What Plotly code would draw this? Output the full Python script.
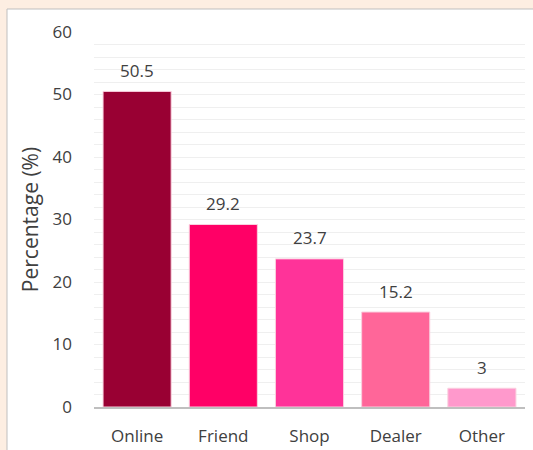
import plotly.graph_objects as go

# Source of purchase (percentage of respondents)
categories = ["Online", "Friend", "Shop", "Dealer", "Other"]
percentages = [50.5, 29.2, 23.7, 15.2, 3]
bar_colors = ["#990033", "#FF0066", "#FF3399", "#FF6699", "#FF99CC"]

y_ticks = [0, 10, 20, 30, 40, 50, 60]

TEXT_COLOR = "#404040"
FONT = "Open Sans"
PAGE_BG = "#FDEEE2"

# plot area in pixels (533x450 page)
L, R, T, B = 94, 8, 32, 43
W = 533 - L - R
H = 450 - T - B


def px_x(px):
    return (px - L) / W


def px_y(py):
    return (450 - B - py) / H


fig = go.Figure()

fig.add_trace(
    go.Bar(
        x=categories,
        y=percentages,
        marker=dict(color=bar_colors, line=dict(color="#FAD0DF", width=1)),
        showlegend=False,
        hoverinfo="x+y",
    )
)

# value labels above bars
for cat, val in zip(categories, percentages):
    fig.add_annotation(
        x=cat,
        y=val,
        text=f"{val:g}",
        showarrow=False,
        yanchor="middle",
        yshift=21,
        font=dict(family=FONT, size=17, color=TEXT_COLOR),
    )

# peach frame strips (left and top) with a grey edge on the white panel
fig.add_shape(
    type="rect", xref="paper", yref="paper",
    x0=px_x(-5), x1=px_x(7), y0=px_y(460), y1=px_y(-5),
    fillcolor=PAGE_BG, line=dict(width=0), layer="below",
)
fig.add_shape(
    type="rect", xref="paper", yref="paper",
    x0=px_x(-5), x1=px_x(545), y0=px_y(9), y1=px_y(-5),
    fillcolor=PAGE_BG, line=dict(width=0), layer="below",
)
fig.add_shape(
    type="rect", xref="paper", yref="paper",
    x0=px_x(7), x1=px_x(545), y0=px_y(465), y1=px_y(9),
    fillcolor="rgba(0,0,0,0)", line=dict(color="#BFBFBF", width=1), layer="below",
)

fig.update_layout(
    width=533,
    height=450,
    margin=dict(l=L, r=R, t=T, b=B),
    paper_bgcolor="white",
    plot_bgcolor="rgba(0,0,0,0)",
    bargap=0.21,
    font=dict(family=FONT, size=17, color=TEXT_COLOR),
)

fig.update_xaxes(
    automargin=False,
    showgrid=False,
    showline=True,
    linecolor="#BFBFBF",
    linewidth=2,
    ticks="",
    ticklabelstandoff=13,
    tickfont=dict(family=FONT, size=17, color=TEXT_COLOR),
)

fig.update_yaxes(
    automargin=False,
    range=[0, 60],
    tickvals=y_ticks,
    showgrid=True,
    gridcolor="#EFEFEF",
    gridwidth=1,
    minor=dict(dtick=2, showgrid=True, gridcolor="#EFEFEF", gridwidth=1),
    zeroline=False,
    showline=False,
    ticks="",
    ticklabelstandoff=21,
    tickfont=dict(family=FONT, size=17, color=TEXT_COLOR),
    title=dict(
        text="Percentage (%)",
        standoff=8,
        font=dict(family=FONT, size=21, color=TEXT_COLOR),
    ),
)

# drop the default body margin so the figure fills the window
fig.write_html(
    "out.html",
    config={"displayModeBar": False},
    post_script=(
        "document.body.style.margin='0';"
        "document.body.style.overflow='hidden';"
    ),
)
